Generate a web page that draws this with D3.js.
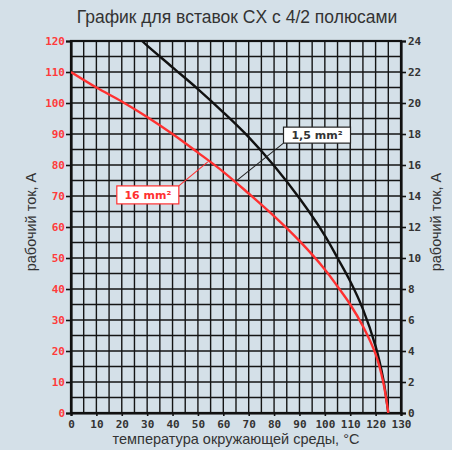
<!DOCTYPE html>
<html lang="ru">
<head>
<meta charset="utf-8">
<title>График</title>
<script src="https://cdn.jsdelivr.net/npm/d3@7"></script>
<style>
  html, body { margin: 0; padding: 0; background: #d4e0e8; }
  svg { display: block; }
  .tick text { font-family: 'DejaVu Sans Mono', monospace; font-size: 11px; font-weight: bold; }
</style>
</head>
<body>
<div id="chart"></div>
<script>
// температура, °C
var temps16 = [0, 10, 20, 30, 40, 50, 60, 70, 80, 90, 100, 105, 110, 115, 120, 123, 125];
// 16 mm2, левая шкала, A
var amps16 = [110, 105, 100.5, 95.5, 90, 84, 77.8, 70.8, 63.5, 55.5, 46.3, 40.8, 35, 28, 19, 10, 0];
// 1,5 mm2, правая шкала, A
var temps15 = [28, 30, 40, 50, 60, 70, 80, 90, 100, 105, 110, 115, 120, 123, 125];
var amps15 = [24, 23.7, 22.3, 20.9, 19.4, 17.8, 15.95, 13.85, 11.45, 10.0, 8.5, 6.7, 4.3, 2.2, 0];

var xTicks = d3.range(0, 131, 10);
var leftTicks = d3.range(0, 121, 10);
var rightTicks = d3.range(0, 25, 2);

var W = 452, H = 450;
var x = d3.scaleLinear().domain([0, 130]).range([71, 401]);
var yL = d3.scaleLinear().domain([0, 120]).range([413, 41]);
var yR = d3.scaleLinear().domain([0, 24]).range([413, 41]);

var svg = d3.select("#chart").append("svg")
    .attr("width", W).attr("height", H);

svg.append("rect").attr("width", W).attr("height", H).attr("fill", "#d4e0e8");

var sans = "'Liberation Sans', Arial, sans-serif";

// заголовок
svg.append("text")
    .attr("x", 237).attr("y", 23)
    .attr("text-anchor", "middle")
    .style("font-family", sans)
    .style("font-size", "17.5px")
    .attr("fill", "#333")
    .text("График для вставок CX с 4/2 полюсами");

// сетка
var grid = svg.append("g").attr("stroke", "#151515").attr("stroke-width", 1.4);
grid.selectAll(".v").data(d3.range(5, 130, 5)).enter().append("line")
    .attr("x1", function (d) { return x(d); }).attr("x2", function (d) { return x(d); })
    .attr("y1", yL(0)).attr("y2", yL(120));
grid.selectAll(".h").data(d3.range(5, 120, 5)).enter().append("line")
    .attr("x1", x(0)).attr("x2", x(130))
    .attr("y1", function (d) { return yL(d); }).attr("y2", function (d) { return yL(d); });

// рамка
svg.append("rect")
    .attr("x", x(0)).attr("y", yL(120))
    .attr("width", x(130) - x(0)).attr("height", yL(0) - yL(120))
    .attr("fill", "none").attr("stroke", "#111").attr("stroke-width", 2.2);

// оси
var axL = svg.append("g").attr("transform", "translate(" + x(0) + ",0)")
    .call(d3.axisLeft(yL).tickValues(leftTicks).tickSize(5).tickPadding(1));
axL.selectAll("text").attr("fill", "#ff3b3b");

var axR = svg.append("g").attr("transform", "translate(" + x(130) + ",0)")
    .call(d3.axisRight(yR).tickValues(rightTicks).tickSize(5).tickPadding(2));
axR.selectAll("text").attr("fill", "#333");

var axB = svg.append("g").attr("transform", "translate(0," + yL(0) + ")")
    .call(d3.axisBottom(x).tickValues(xTicks).tickSize(3).tickPadding(4));
axB.selectAll("text").attr("fill", "#333");

svg.selectAll(".domain").attr("stroke", "#111").attr("stroke-width", 2.2);
svg.selectAll(".tick line").attr("stroke", "#111").attr("stroke-width", 1.6);

// подписи осей
svg.append("text")
    .attr("x", 236).attr("y", 444)
    .attr("text-anchor", "middle")
    .style("font-family", sans).style("font-size", "14.5px")
    .attr("fill", "#333")
    .text("температура окружающей среды, °C");
svg.append("text")
    .attr("transform", "translate(36,222) rotate(-90)")
    .attr("text-anchor", "middle")
    .style("font-family", sans).style("font-size", "14.5px")
    .attr("fill", "#333")
    .text("рабочий ток, A");
svg.append("text")
    .attr("transform", "translate(441,222) rotate(-90)")
    .attr("text-anchor", "middle")
    .style("font-family", sans).style("font-size", "14.5px")
    .attr("fill", "#333")
    .text("рабочий ток, A");

// кривые
svg.append("clipPath").attr("id", "clip").append("rect")
    .attr("x", x(0)).attr("y", yL(120))
    .attr("width", x(130) - x(0)).attr("height", yL(0) - yL(120));

var line16 = d3.line()
    .x(function (d) { return x(d[0]); })
    .y(function (d) { return yL(d[1]); })
    .curve(d3.curveCatmullRom.alpha(0.5));
var line15 = d3.line()
    .x(function (d) { return x(d[0]); })
    .y(function (d) { return yR(d[1]); })
    .curve(d3.curveCatmullRom.alpha(0.5));

var curves = svg.append("g").attr("clip-path", "url(#clip)").attr("fill", "none");
curves.append("path")
    .datum(d3.zip(temps15, amps15))
    .attr("d", line15)
    .attr("stroke", "#111").attr("stroke-width", 2.4);
curves.append("path")
    .datum(d3.zip(temps16, amps16))
    .attr("d", line16)
    .attr("stroke", "#ff3030").attr("stroke-width", 2.4);

// выноски
function callout(ax, ay, bx, by, w, h, corner, label, color, textColor) {
    var left = corner === "tr" ? bx - w : bx;
    var top = corner === "tr" ? by : by - h;
    svg.append("line")
        .attr("x1", ax).attr("y1", ay).attr("x2", bx).attr("y2", by)
        .attr("stroke", color).attr("stroke-width", 1.1);
    svg.append("rect")
        .attr("x", left).attr("y", top).attr("width", w).attr("height", h)
        .attr("fill", "#fff").attr("stroke", color).attr("stroke-width", 1.2);
    svg.append("text")
        .attr("x", left + w / 2).attr("y", top + h / 2 + 4)
        .attr("text-anchor", "middle")
        .style("font-family", "'DejaVu Sans', sans-serif")
        .style("font-size", "11px").style("font-weight", "bold")
        .attr("fill", textColor)
        .text(label);
}
var a16x = x(53.9), a16y = yL(81);
callout(a16x, a16y, a16x - 29, a16y + 24, 62, 18, "tr", "16 mm²", "#ff3030", "#ff3030");
var a15x = x(65), a15y = yL(74.8);
callout(a15x, a15y, a15x + 47.5, a15y - 38, 67, 16, "bl", "1,5 mm²", "#222", "#333");
</script>
</body>
</html>
